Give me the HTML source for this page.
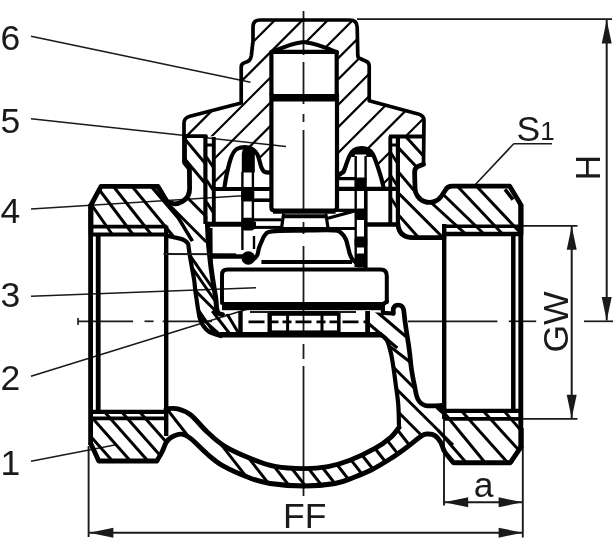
<!DOCTYPE html>
<html lang="en">
<head>
<meta charset="utf-8">
<title>Valve section drawing</title>
<style>
html,body{margin:0;padding:0;background:#fff;}
svg{display:block;filter:grayscale(1);}
svg text{font-family:"Liberation Sans",Arial,Helvetica,sans-serif;fill:#1a1a1a;}
</style>
</head>
<body>
<svg width="613" height="539" viewBox="0 0 613 539">
<defs>
<clipPath id="c1"><path d="M303.5,20 L260,20 Q253,20 253,27 L253,41 L251.3,56 Q250.5,61.5 245,62.5 Q241.2,63.5 241.2,67 L241.2,103 L190,116.2 Q184,117.8 184,123 L184,136.2 L213.4,136.2 L213.4,189 L224,189 L224,186.7 L230.5,157.4 Q236,146.5 245.3,146.5 Q255,147 260,159 L263.2,172 L271.4,172 L271.4,52.5 Q290,43.5 303.5,42 Q318,43.5 336.7,52.5 L336.7,174 L342.6,172.5 L349.1,156.1 Q352,148 360.6,148 Q369,148 373.6,156.1 L381.8,183.9 L382.5,188 L390.4,188 L390.4,136.5 L424,136.5 L424,120.5 Q424,115.6 419,114.2 L369.2,100.8 L369.2,66 Q369.2,62.8 366.5,61.5 L360,58.5 Q358,58 357.8,55.7 L357.2,27.5 Q357,20 350,20 Z"/></clipPath>
<clipPath id="c2"><path d="M91,234.6 L91,205 L101,186.4 L158,186.4 L167.2,201.7 A15,15 0 0 0 189.6,188 L189.4,169.5 Q189.2,168 188,167 L184.5,162.6 L184.5,136.2 L205.4,136.2 L207.5,224.0 C207.6,226.7 207.9,235.0 208.2,240.0 C208.5,245.0 209.0,249.1 209.5,254.0 C210.0,258.9 210.6,264.3 211.3,269.5 C212.0,274.7 212.8,280.2 213.6,285.0 C214.3,289.8 215.3,294.5 215.8,298.5 C216.3,302.5 216.2,306.6 216.7,309.0 C217.1,311.4 217.6,312.3 218.5,313.2 C219.4,314.1 221.8,314.3 222.4,314.5 L240,312.2 L240,335.2 L220.8,336 L220.8,336.0 C218.9,335.3 212.2,333.6 209.3,331.9 C206.4,330.2 205.1,328.4 203.5,326.0 C201.9,323.6 200.8,322.8 199.5,317.2 C198.2,311.6 196.5,298.8 195.6,292.7 C194.7,286.6 194.8,284.4 194.2,280.3 C193.6,276.2 192.8,272.4 192.0,268.0 C191.2,263.6 190.0,256.5 189.6,254.2 L188.2,244 Q186,240 180,238.6 L166,235.5 L166,234.6 Z"/></clipPath>
<clipPath id="c3"><path d="M521,234 L521,205 L509.7,186.2 L452,186.2 Q447.5,186.2 445.5,190 L441.5,196 A14.5,14.5 0 0 1 415,187.2 L414.6,172.5 Q414.8,168 417.4,166.8 L423.5,164.3 L424,136.5 L397.9,136.5 L397.9,224 Q399,237.6 413,237.6 L444,237.6 L444,234 Z"/></clipPath>
<clipPath id="c4"><path d="M91,411.2 L91,444 L98.8,461 L156.8,461 L156.8,461.0 C157.7,459.5 160.4,455.1 162.0,452.0 C163.6,448.9 164.8,444.7 166.3,442.3 C167.8,439.9 168.8,438.8 171.2,437.4 C173.6,436.0 177.7,433.9 181.0,434.1 C184.3,434.3 186.4,435.3 190.8,438.6 C195.2,441.9 201.8,449.4 207.2,454.0 C212.6,458.6 216.4,462.2 223.5,466.2 C230.6,470.2 242.2,475.1 250.0,478.0 C257.8,480.9 261.0,482.2 270.0,483.5 C279.0,484.8 293.2,486.0 304.0,486.0 C314.8,486.0 326.8,484.9 335.0,483.5 C343.2,482.1 347.0,479.9 353.0,477.7 C359.0,475.4 364.9,473.2 371.2,470.0 C377.5,466.8 384.8,462.3 390.8,458.5 C396.8,454.7 402.0,450.8 407.2,447.0 C412.4,443.2 418.4,437.8 421.9,435.6 C425.4,433.4 426.2,434.0 428.4,434.0 C430.6,434.0 432.9,434.2 435.0,435.6 C437.1,437.0 439.1,439.5 440.7,442.2 C442.3,444.9 442.6,448.6 444.8,452.0 C447.0,455.4 452.1,460.9 453.6,462.7 L510.4,462.7 L521,446.8 L521,409.6 L444,409.6 L444,405.4 L443.1,405.4 C440.1,405.4 429.4,406.5 425.2,405.4 C421.0,404.3 419.6,402.4 417.8,399.0 C416.0,395.6 415.5,390.2 414.4,385.0 C413.3,379.8 412.1,373.8 411.3,368.0 C410.5,362.2 410.3,357.3 409.3,350.0 C408.3,342.7 406.3,330.7 405.4,324.0 C404.4,317.3 404.2,312.7 403.6,309.7 C403.0,306.7 402.4,306.8 401.5,306.0 C400.6,305.2 399.5,305.0 398.5,305.0 C397.5,305.0 396.2,305.2 395.3,305.8 C394.4,306.4 393.6,308.1 393.3,308.5 L393.3,313.5 L382.9,312.7 L367,312 L367,334.7 L381,334.7 L381.0,334.7 C382.0,335.6 385.3,337.3 387.0,340.4 C388.7,343.5 389.9,348.9 391.0,353.5 C392.1,358.1 392.7,362.8 393.5,368.0 C394.3,373.2 395.0,378.8 395.8,385.0 C396.6,391.2 397.8,397.9 398.3,405.0 C398.8,412.1 398.9,423.8 399.0,427.5 L399.0,427.5 C397.6,429.1 394.9,433.8 390.8,437.3 C386.7,440.8 381.3,444.9 374.5,448.7 C367.7,452.5 357.8,457.2 350.0,460.2 C342.2,463.2 335.7,465.2 328.0,466.6 C320.3,468.0 312.8,468.6 304.0,468.6 C295.2,468.6 284.0,468.1 275.0,466.4 C266.0,464.7 258.5,461.6 250.0,458.2 C241.5,454.8 231.1,450.2 224.0,445.8 C216.9,441.4 212.7,437.1 207.2,432.0 C201.7,426.9 195.7,418.9 190.8,415.0 C185.9,411.1 181.9,409.8 177.8,408.8 C173.7,407.8 168.0,408.8 166.0,408.8 L166,411.2 Z"/></clipPath>
</defs>
<rect x="0" y="0" width="613" height="539" fill="#fff"/>
<text x="0.5" y="49.5" font-size="35.5" text-anchor="start" >6</text>
<line x1="31" y1="36.3" x2="250.5" y2="82.2" stroke="#1a1a1a" stroke-width="1.6" stroke-linecap="butt" />
<text x="0.5" y="133.2" font-size="35.5" text-anchor="start" >5</text>
<line x1="31" y1="118.7" x2="286" y2="146.5" stroke="#1a1a1a" stroke-width="1.6" stroke-linecap="butt" />
<text x="0.5" y="223" font-size="35.5" text-anchor="start" >4</text>
<line x1="31" y1="209" x2="246.7" y2="195.5" stroke="#1a1a1a" stroke-width="1.6" stroke-linecap="butt" />
<text x="0.5" y="307" font-size="35.5" text-anchor="start" >3</text>
<line x1="31" y1="296.2" x2="256" y2="287.8" stroke="#1a1a1a" stroke-width="1.6" stroke-linecap="butt" />
<text x="0.5" y="390" font-size="35.5" text-anchor="start" >2</text>
<line x1="31" y1="376.2" x2="250.2" y2="308.2" stroke="#1a1a1a" stroke-width="1.6" stroke-linecap="butt" />
<text x="0.5" y="475" font-size="35.5" text-anchor="start" >1</text>
<line x1="31" y1="461.3" x2="116" y2="444.7" stroke="#1a1a1a" stroke-width="1.6" stroke-linecap="butt" />
<text x="516.6" y="140.8" font-size="35.5" text-anchor="start" >S</text>
<text x="540.3" y="140.4" font-size="26" text-anchor="start" >1</text>
<line x1="513.5" y1="143.8" x2="552" y2="143.8" stroke="#1a1a1a" stroke-width="1.6" stroke-linecap="butt" />
<line x1="513.7" y1="143.8" x2="474.7" y2="185.3" stroke="#1a1a1a" stroke-width="1.6" stroke-linecap="butt" />
<line x1="357" y1="19.2" x2="612" y2="19.2" stroke="#1a1a1a" stroke-width="1.8" stroke-linecap="butt" />
<line x1="606.7" y1="20" x2="606.7" y2="320.5" stroke="#1a1a1a" stroke-width="2.0" stroke-linecap="butt" />
<polygon points="606.7,19.9 601.7,43.4 611.7,43.4" fill="#1a1a1a"/>
<polygon points="606.7,320.5 601.7,297.0 611.7,297.0" fill="#1a1a1a"/>
<text font-size="35.5" text-anchor="middle" transform="translate(600.4,167.8) rotate(-90)">H</text>
<line x1="518" y1="225.8" x2="577.5" y2="225.8" stroke="#1a1a1a" stroke-width="1.8" stroke-linecap="butt" />
<line x1="521" y1="418.9" x2="577.5" y2="418.9" stroke="#1a1a1a" stroke-width="1.8" stroke-linecap="butt" />
<line x1="571.7" y1="226" x2="571.7" y2="418" stroke="#1a1a1a" stroke-width="2.0" stroke-linecap="butt" />
<polygon points="571.7,226.2 566.7,249.7 576.7,249.7" fill="#1a1a1a"/>
<polygon points="571.7,418.2 566.7,394.7 576.7,394.7" fill="#1a1a1a"/>
<text font-size="35.5" text-anchor="middle" transform="translate(567.9,322) rotate(-90)">GW</text>
<line x1="444" y1="405" x2="444" y2="505.5" stroke="#1a1a1a" stroke-width="1.9" stroke-linecap="butt" />
<line x1="522.8" y1="428" x2="522.8" y2="537.5" stroke="#1a1a1a" stroke-width="1.9" stroke-linecap="butt" />
<line x1="444" y1="502.3" x2="522.8" y2="502.3" stroke="#1a1a1a" stroke-width="2.0" stroke-linecap="butt" />
<polygon points="444.2,502.3 468.2,497.3 468.2,507.3" fill="#1a1a1a"/>
<polygon points="522.6,502.3 498.6,497.3 498.6,507.3" fill="#1a1a1a"/>
<text x="483.5" y="496.6" font-size="35.5" text-anchor="middle" >a</text>
<line x1="88.6" y1="446" x2="88.6" y2="537" stroke="#1a1a1a" stroke-width="1.9" stroke-linecap="butt" />
<line x1="89.2" y1="532.7" x2="522.8" y2="532.7" stroke="#1a1a1a" stroke-width="2.0" stroke-linecap="butt" />
<polygon points="89.4,532.7 113.4,527.7 113.4,537.7" fill="#1a1a1a"/>
<polygon points="522.6,532.7 498.6,527.7 498.6,537.7" fill="#1a1a1a"/>
<text x="304.8" y="527.5" font-size="35.5" text-anchor="middle" >FF</text>
<line x1="303.5" y1="11" x2="303.5" y2="55" stroke="#1a1a1a" stroke-width="1.8" stroke-linecap="butt" />
<line x1="303.5" y1="62" x2="303.5" y2="104" stroke="#1a1a1a" stroke-width="1.8" stroke-linecap="butt" />
<line x1="303.5" y1="114" x2="303.5" y2="122" stroke="#1a1a1a" stroke-width="1.8" stroke-linecap="butt" />
<line x1="303.5" y1="130" x2="303.5" y2="212" stroke="#1a1a1a" stroke-width="1.8" stroke-linecap="butt" />
<line x1="303.5" y1="222" x2="303.5" y2="234" stroke="#1a1a1a" stroke-width="1.8" stroke-linecap="butt" />
<line x1="303.5" y1="246" x2="303.5" y2="337" stroke="#1a1a1a" stroke-width="1.8" stroke-linecap="butt" />
<line x1="303.5" y1="344" x2="303.5" y2="359" stroke="#1a1a1a" stroke-width="1.8" stroke-linecap="butt" />
<line x1="303.5" y1="366" x2="303.5" y2="496" stroke="#1a1a1a" stroke-width="1.8" stroke-linecap="butt" />
<line x1="78" y1="321.3" x2="133" y2="321.3" stroke="#1a1a1a" stroke-width="1.7" stroke-linecap="butt" />
<line x1="144.5" y1="321.3" x2="153.6" y2="321.3" stroke="#1a1a1a" stroke-width="1.7" stroke-linecap="butt" />
<line x1="162.7" y1="321.3" x2="212" y2="321.3" stroke="#1a1a1a" stroke-width="1.7" stroke-linecap="butt" />
<line x1="408" y1="321.3" x2="497.4" y2="321.3" stroke="#1a1a1a" stroke-width="1.7" stroke-linecap="butt" />
<line x1="508.8" y1="321.3" x2="536.2" y2="321.3" stroke="#1a1a1a" stroke-width="1.7" stroke-linecap="butt" />
<line x1="584" y1="321.3" x2="613" y2="321.3" stroke="#1a1a1a" stroke-width="1.7" stroke-linecap="butt" />
<line x1="78" y1="318" x2="78" y2="325" stroke="#1a1a1a" stroke-width="1.6" stroke-linecap="butt" />
<path d="M303.5,20 L260,20 Q253,20 253,27 L253,41 L251.3,56 Q250.5,61.5 245,62.5 Q241.2,63.5 241.2,67 L241.2,103 L190,116.2 Q184,117.8 184,123 L184,136.2 L206,136.2" fill="none" stroke="#000" stroke-width="3.7" stroke-linejoin="round" stroke-linecap="round" />
<path d="M303.5,20 L350,20 Q357,20 357.2,27.5 L357.8,55.7 Q358,58 360,58.5 L366.5,61.5 Q369.2,62.8 369.2,66 L369.2,100.8 L419,114.2 Q424,115.6 424,120.5 L423.5,164.3" fill="none" stroke="#000" stroke-width="3.7" stroke-linejoin="round" stroke-linecap="round" />
<path d="M271.4,94 L271.4,51.8 L336.7,51.8 L336.7,94" fill="none" stroke="#000" stroke-width="4.2" stroke-linejoin="round" stroke-linecap="round" />
<path d="M271.4,52.5 Q290,43.5 303.5,42 Q318,43.5 336.7,52.5" fill="none" stroke="#000" stroke-width="4.2" stroke-linejoin="round" stroke-linecap="round" />
<rect x="270" y="94" width="68" height="7.5" fill="#000"/>
<path d="M271.4,94 L271.4,207.5 Q271.4,210.6 275,210.6 L333.5,210.6 Q337,210.6 337,207.5 L337,94" fill="none" stroke="#000" stroke-width="4.2" stroke-linejoin="round" stroke-linecap="round" />
<line x1="273" y1="211.6" x2="335.5" y2="211.6" stroke="#000" stroke-width="4.4" stroke-linecap="butt" />
<g clip-path="url(#c1)" stroke="#000" stroke-width="2.25" fill="none">
<line x1="270.0" y1="0" x2="-269.0" y2="539"/>
<line x1="295.0" y1="0" x2="-244.0" y2="539"/>
<line x1="322.6" y1="0" x2="-216.4" y2="539"/>
<line x1="348.0" y1="0" x2="-191.0" y2="539"/>
<line x1="373.0" y1="0" x2="-166.0" y2="539"/>
<line x1="396.4" y1="0" x2="-142.6" y2="539"/>
<line x1="417.5" y1="0" x2="-121.5" y2="539"/>
<line x1="443.0" y1="0" x2="-96.0" y2="539"/>
<line x1="465.3" y1="0" x2="-73.7" y2="539"/>
<line x1="491.0" y1="0" x2="-48.0" y2="539"/>
<line x1="516.4" y1="0" x2="-22.6" y2="539"/>
<line x1="542.0" y1="0" x2="3.0" y2="539"/>
<line x1="567.0" y1="0" x2="28.0" y2="539"/>
</g>
<path d="M91,234.6 L91,205 L101,186.4 L158,186.4 L167.2,201.7 A15,15 0 0 0 189.6,188 L189.4,169.5 Q189.2,168 188,167 L184.5,162.6 L184.5,136.2" fill="none" stroke="#000" stroke-width="4.8" stroke-linejoin="round" stroke-linecap="round" />
<path d="M521,234 L521,205 L509.7,186.2 L452,186.2 Q447.5,186.2 445.5,190 L441.5,196 A14.5,14.5 0 0 1 415,187.2 L414.6,172.5 Q414.8,168 417.4,166.8 L423.5,164.3" fill="none" stroke="#000" stroke-width="4.8" stroke-linejoin="round" stroke-linecap="round" />
<line x1="90.6" y1="204" x2="90.6" y2="445" stroke="#000" stroke-width="4.8" stroke-linecap="butt" />
<line x1="98.2" y1="234.6" x2="98.2" y2="411.2" stroke="#000" stroke-width="4.8" stroke-linecap="butt" />
<line x1="90" y1="226.6" x2="167.3" y2="226.6" stroke="#000" stroke-width="3.8" stroke-linecap="butt" />
<line x1="90" y1="234.4" x2="167.3" y2="234.4" stroke="#000" stroke-width="4.0" stroke-linecap="butt" />
<line x1="166.2" y1="226" x2="166.2" y2="436" stroke="#000" stroke-width="4.4" stroke-linecap="butt" />
<line x1="90" y1="411.8" x2="167" y2="411.8" stroke="#000" stroke-width="4.2" stroke-linecap="butt" />
<line x1="90" y1="418.4" x2="166" y2="418.4" stroke="#000" stroke-width="3.9" stroke-linecap="butt" />
<line x1="520.8" y1="204" x2="520.8" y2="448" stroke="#000" stroke-width="4.9" stroke-linecap="butt" />
<line x1="513.3" y1="233.9" x2="513.3" y2="410.5" stroke="#000" stroke-width="4.5" stroke-linecap="butt" />
<line x1="443" y1="226.3" x2="521" y2="226.3" stroke="#000" stroke-width="3.6" stroke-linecap="butt" />
<line x1="444" y1="234" x2="521" y2="234" stroke="#000" stroke-width="4.6" stroke-linecap="butt" />
<line x1="444.2" y1="224" x2="444.2" y2="419" stroke="#000" stroke-width="4.4" stroke-linecap="butt" />
<line x1="444" y1="410.8" x2="521" y2="410.8" stroke="#000" stroke-width="4.2" stroke-linecap="butt" />
<line x1="444" y1="418.9" x2="521" y2="418.9" stroke="#000" stroke-width="3.6" stroke-linecap="butt" />
<line x1="505" y1="189.3" x2="513" y2="199.6" stroke="#000" stroke-width="3.6" stroke-linecap="butt" />
<path d="M166,235.5 L180,238.6 Q186,240 188.2,244 L189.6,254.2 C190.0,256.5 191.2,263.6 192.0,268.0 C192.8,272.4 193.6,276.2 194.2,280.3 C194.8,284.4 194.7,286.6 195.6,292.7 C196.5,298.8 198.2,311.6 199.5,317.2 C200.8,322.8 201.9,323.6 203.5,326.0 C205.1,328.4 206.4,330.2 209.3,331.9 C212.2,333.6 218.9,335.3 220.8,336.0" fill="none" stroke="#000" stroke-width="4.2" stroke-linejoin="round" stroke-linecap="round" />
<path d="M207.5,224.0 C207.6,226.7 207.9,235.0 208.2,240.0 C208.5,245.0 209.0,249.1 209.5,254.0 C210.0,258.9 210.6,264.3 211.3,269.5 C212.0,274.7 212.8,280.2 213.6,285.0 C214.3,289.8 215.3,294.5 215.8,298.5 C216.3,302.5 216.2,306.6 216.7,309.0 C217.1,311.4 217.6,312.3 218.5,313.2 C219.4,314.1 221.8,314.3 222.4,314.5" fill="none" stroke="#000" stroke-width="5.0" stroke-linejoin="round" stroke-linecap="round" />
<line x1="220" y1="334.8" x2="382" y2="334.8" stroke="#000" stroke-width="5.4" stroke-linecap="butt" />
<line x1="205.4" y1="136.2" x2="205.4" y2="224" stroke="#000" stroke-width="4.2" stroke-linecap="butt" />
<line x1="213.8" y1="137" x2="213.8" y2="224" stroke="#000" stroke-width="3.9" stroke-linecap="butt" />
<line x1="390.3" y1="136.5" x2="390.3" y2="224" stroke="#000" stroke-width="3.9" stroke-linecap="butt" />
<line x1="397.9" y1="136.5" x2="397.9" y2="226" stroke="#000" stroke-width="4.2" stroke-linecap="butt" />
<line x1="389" y1="136.5" x2="424" y2="136.5" stroke="#000" stroke-width="3.9" stroke-linecap="butt" />
<line x1="205" y1="145" x2="214" y2="145" stroke="#000" stroke-width="3.0" stroke-linecap="butt" />
<line x1="390" y1="145" x2="398" y2="145" stroke="#000" stroke-width="3.0" stroke-linecap="butt" />
<path d="M397.9,224 Q399,237.6 413,237.6 L444,237.6" fill="none" stroke="#000" stroke-width="4.8" stroke-linejoin="round" stroke-linecap="round" />
<g clip-path="url(#c2)" stroke="#000" stroke-width="3.0" fill="none">
<line x1="88.1" y1="200" x2="113.4" y2="236"/>
<line x1="95.0" y1="184" x2="134.1" y2="236"/>
<line x1="111.5" y1="184" x2="152.5" y2="236"/>
<line x1="130.1" y1="184" x2="173.1" y2="236"/>
<line x1="149.0" y1="184" x2="178.5" y2="218.5"/>
<line x1="150.0" y1="184" x2="179.5" y2="218.5"/>
<line x1="178.1" y1="218" x2="191.9" y2="241"/>
<line x1="178.8" y1="218" x2="192.6" y2="241"/>
<line x1="164.3" y1="200" x2="206.3" y2="242"/>
<line x1="184.7" y1="195" x2="215.7" y2="226"/>
<line x1="177.3" y1="130" x2="210.7" y2="170"/>
<line x1="177.3" y1="150" x2="219.0" y2="200"/>
<line x1="182.7" y1="245" x2="213.9" y2="290"/>
<line x1="188.2" y1="262" x2="217.9" y2="305"/>
<line x1="190.6" y1="286" x2="218.6" y2="314"/>
<line x1="195.6" y1="306" x2="214.9" y2="334"/>
<line x1="201.4" y1="318" x2="223.7" y2="338"/>
<line x1="212.2" y1="311" x2="233.0" y2="338"/>
<line x1="224.7" y1="310" x2="241.5" y2="338"/>
</g>
<g clip-path="url(#c3)" stroke="#000" stroke-width="3.0" fill="none">
<line x1="387.4" y1="136" x2="419.4" y2="170"/>
<line x1="388.4" y1="160" x2="422.0" y2="200"/>
<line x1="395.4" y1="190" x2="445.4" y2="240"/>
<line x1="389.6" y1="205" x2="420.6" y2="240"/>
<line x1="423.9" y1="196" x2="472.2" y2="240"/>
<line x1="434.5" y1="186" x2="486.1" y2="236"/>
<line x1="455.3" y1="184" x2="504.4" y2="236"/>
<line x1="474.4" y1="184" x2="523.5" y2="236"/>
<line x1="390.7" y1="120" x2="427.1" y2="160"/>
</g>
<path d="M91,444 L98.8,461 L156.8,461 L156.8,461.0 C157.7,459.5 160.4,455.1 162.0,452.0 C163.6,448.9 164.8,444.7 166.3,442.3 C167.8,439.9 168.8,438.8 171.2,437.4 C173.6,436.0 177.7,433.9 181.0,434.1 C184.3,434.3 186.4,435.3 190.8,438.6 C195.2,441.9 201.8,449.4 207.2,454.0 C212.6,458.6 216.4,462.2 223.5,466.2 C230.6,470.2 242.2,475.1 250.0,478.0 C257.8,480.9 261.0,482.2 270.0,483.5 C279.0,484.8 293.2,486.0 304.0,486.0 C314.8,486.0 326.8,484.9 335.0,483.5 C343.2,482.1 347.0,479.9 353.0,477.7 C359.0,475.4 364.9,473.2 371.2,470.0 C377.5,466.8 384.8,462.3 390.8,458.5 C396.8,454.7 402.0,450.8 407.2,447.0 C412.4,443.2 418.4,437.8 421.9,435.6 C425.4,433.4 426.2,434.0 428.4,434.0 C430.6,434.0 432.9,434.2 435.0,435.6 C437.1,437.0 439.1,439.5 440.7,442.2 C442.3,444.9 442.6,448.6 444.8,452.0 C447.0,455.4 452.1,460.9 453.6,462.7 L510.4,462.7 L521,446.8" fill="none" stroke="#000" stroke-width="4.9" stroke-linejoin="round" stroke-linecap="round" />
<path d="M166.0,408.8 C168.0,408.8 173.7,407.8 177.8,408.8 C181.9,409.8 185.9,411.1 190.8,415.0 C195.7,418.9 201.7,426.9 207.2,432.0 C212.7,437.1 216.9,441.4 224.0,445.8 C231.1,450.2 241.5,454.8 250.0,458.2 C258.5,461.6 266.0,464.7 275.0,466.4 C284.0,468.1 295.2,468.6 304.0,468.6 C312.8,468.6 320.3,468.0 328.0,466.6 C335.7,465.2 342.2,463.2 350.0,460.2 C357.8,457.2 367.7,452.5 374.5,448.7 C381.3,444.9 386.7,440.8 390.8,437.3 C394.9,433.8 397.6,429.1 399.0,427.5" fill="none" stroke="#000" stroke-width="4.9" stroke-linejoin="round" stroke-linecap="round" />
<path d="M367,334.7 L381,334.7 L381.0,334.7 C382.0,335.6 385.3,337.3 387.0,340.4 C388.7,343.5 389.9,348.9 391.0,353.5 C392.1,358.1 392.7,362.8 393.5,368.0 C394.3,373.2 395.0,378.8 395.8,385.0 C396.6,391.2 397.8,397.9 398.3,405.0 C398.8,412.1 398.9,423.8 399.0,427.5" fill="none" stroke="#000" stroke-width="4.2" stroke-linejoin="round" stroke-linecap="round" />
<path d="M393.3,313.5 L393.3,308.5 L393.3,308.5 C393.6,308.1 394.4,306.4 395.3,305.8 C396.2,305.2 397.5,305.0 398.5,305.0 C399.5,305.0 400.6,305.2 401.5,306.0 C402.4,306.8 403.0,306.7 403.6,309.7 C404.2,312.7 404.4,317.3 405.4,324.0 C406.3,330.7 408.3,342.7 409.3,350.0 C410.3,357.3 410.5,362.2 411.3,368.0 C412.1,373.8 413.3,379.8 414.4,385.0 C415.5,390.2 416.0,395.6 417.8,399.0 C419.6,402.4 421.0,404.3 425.2,405.4 C429.4,406.5 440.1,405.4 443.1,405.4" fill="none" stroke="#000" stroke-width="4.7" stroke-linejoin="round" stroke-linecap="round" />
<path d="M387,301.5 L384,303.5 Q382.5,305 382.9,308 L382.9,312.9 L393.3,313.5" fill="none" stroke="#000" stroke-width="4.2" stroke-linejoin="round" stroke-linecap="round" />
<g clip-path="url(#c4)" stroke="#000" stroke-width="3.0" fill="none">
<line x1="62.9" y1="405" x2="116.0" y2="465"/>
<line x1="80.9" y1="405" x2="134.0" y2="465"/>
<line x1="98.4" y1="405" x2="151.5" y2="465"/>
<line x1="115.5" y1="405" x2="168.6" y2="465"/>
<line x1="133.5" y1="405" x2="186.6" y2="465"/>
<line x1="437.8" y1="430" x2="469.1" y2="466"/>
<line x1="437.8" y1="405" x2="487.8" y2="466"/>
<line x1="456.2" y1="405" x2="510.7" y2="466"/>
<line x1="477.8" y1="405" x2="533.2" y2="466"/>
<line x1="501.5" y1="408" x2="524.1" y2="434"/>
<line x1="158.7" y1="398.5" x2="191.5" y2="440.5"/>
<line x1="215.0" y1="436.6" x2="247.8" y2="478.6"/>
<line x1="238.8" y1="445.4" x2="271.6" y2="487.4"/>
<line x1="262.6" y1="451.7" x2="295.4" y2="493.7"/>
<line x1="279.7" y1="453" x2="312.5" y2="495"/>
<line x1="296.4" y1="453" x2="329.2" y2="495"/>
<line x1="310.3" y1="452" x2="343.1" y2="494"/>
<line x1="325.2" y1="449.5" x2="358.0" y2="491.5"/>
<line x1="340.0" y1="445.8" x2="372.8" y2="487.8"/>
<line x1="352.2" y1="442.5" x2="385.0" y2="484.5"/>
<line x1="365.3" y1="436" x2="398.1" y2="478"/>
<line x1="377.5" y1="427.8" x2="410.3" y2="469.8"/>
<line x1="388.2" y1="418" x2="421.0" y2="460"/>
<line x1="382.3" y1="375" x2="453.0" y2="445"/>
<line x1="386.2" y1="400" x2="426.2" y2="440"/>
<line x1="386.2" y1="360" x2="421.2" y2="395"/>
<line x1="372.3" y1="308" x2="412.3" y2="342"/>
<line x1="362.0" y1="318" x2="397.3" y2="348"/>
<line x1="386.7" y1="344" x2="415.3" y2="366"/>
</g>
<line x1="436.6" y1="407.9" x2="447" y2="417" stroke="#000" stroke-width="2.4" stroke-linecap="butt" />
<path d="M224.5,187.0 C224.9,184.7 225.9,178.0 227.0,173.0 C228.1,168.0 229.8,160.9 231.3,157.0 C232.8,153.1 234.1,151.1 236.0,149.5 C237.9,147.9 240.5,147.5 243.0,147.3 C245.5,147.1 248.6,147.3 251.0,148.5 C253.4,149.7 255.7,151.2 257.4,154.4 C259.1,157.6 260.2,164.5 261.4,167.4 C262.6,170.3 262.9,170.9 264.5,171.8 C266.1,172.7 269.9,172.5 271.0,172.6" fill="none" stroke="#000" stroke-width="4.2" stroke-linejoin="round" stroke-linecap="round" />
<path d="M337.0,175.0 C338.0,174.5 341.5,173.7 343.0,172.0 C344.5,170.3 344.9,167.7 346.0,165.0 C347.1,162.3 348.3,158.2 349.6,155.7 C350.9,153.2 352.1,151.2 354.0,150.0 C355.9,148.8 359.0,148.3 361.3,148.2 C363.6,148.1 366.1,148.5 368.0,149.5 C369.9,150.5 371.1,150.6 373.0,154.4 C374.9,158.2 377.9,167.2 379.6,172.6 C381.4,178.0 382.9,184.6 383.5,187.0" fill="none" stroke="#000" stroke-width="4.2" stroke-linejoin="round" stroke-linecap="round" />
<path d="M241.8,172.6 L241.8,154 Q241.8,147.5 248,147.5 Q254.8,147.5 254.8,154 L254.8,172.6 Z" fill="#000"/>
<path d="M349.5,157 Q352,148 361.3,147.3 Q370.5,148 372.5,157 L366.5,157 L366,154.5 L355,154.5 L354.5,157 Z" fill="#000"/>
<path d="M337,179 L345.5,173 L348,165 L343.5,170.5 L337,173 Z" fill="#000"/>
<line x1="242.4" y1="172" x2="242.4" y2="250" stroke="#000" stroke-width="2.4" stroke-linecap="butt" />
<line x1="252.9" y1="172" x2="252.9" y2="221" stroke="#000" stroke-width="2.4" stroke-linecap="butt" />
<line x1="254" y1="236" x2="254" y2="249" stroke="#000" stroke-width="2.4" stroke-linecap="butt" />
<line x1="355.7" y1="156" x2="355.7" y2="267" stroke="#000" stroke-width="2.4" stroke-linecap="butt" />
<line x1="365.6" y1="156" x2="365.6" y2="180" stroke="#000" stroke-width="2.4" stroke-linecap="butt" />
<line x1="365.8" y1="189" x2="365.8" y2="268" stroke="#000" stroke-width="3.6" stroke-linecap="butt" />
<rect x="241" y="189.2" width="13.2" height="12.4" rx="3" fill="#000"/>
<rect x="241.5" y="217.8" width="12.8" height="12.8" rx="3" fill="#000"/>
<circle cx="248.3" cy="258" r="6.8" fill="#000"/>
<rect x="354.8" y="177.6" width="12" height="12.4" rx="3" fill="#000"/>
<rect x="355.2" y="208.6" width="11.4" height="11.4" rx="3" fill="#000"/>
<rect x="354.6" y="236.6" width="12.6" height="11" rx="3" fill="#000"/>
<rect x="355.2" y="253.5" width="11" height="14" rx="3" fill="#000"/>
<line x1="214" y1="189" x2="271.4" y2="189" stroke="#000" stroke-width="4.2" stroke-linecap="butt" />
<line x1="254" y1="200.2" x2="271" y2="200.2" stroke="#000" stroke-width="3.6" stroke-linecap="butt" />
<line x1="337" y1="178.6" x2="355" y2="178.6" stroke="#000" stroke-width="3.3" stroke-linecap="butt" />
<line x1="337" y1="188.8" x2="396" y2="188.8" stroke="#000" stroke-width="4.2" stroke-linecap="butt" />
<line x1="207" y1="224.3" x2="256" y2="224.3" stroke="#000" stroke-width="5.1" stroke-linecap="butt" />
<line x1="254" y1="219.8" x2="281" y2="219.8" stroke="#000" stroke-width="3.0" stroke-linecap="butt" />
<line x1="254" y1="227.4" x2="281" y2="227.4" stroke="#000" stroke-width="3.0" stroke-linecap="butt" />
<line x1="365.4" y1="224.5" x2="398" y2="224.5" stroke="#000" stroke-width="4.5" stroke-linecap="butt" />
<line x1="163.5" y1="253.9" x2="236" y2="254.2" stroke="#1a1a1a" stroke-width="2.0" stroke-linecap="butt" />
<line x1="210" y1="256.4" x2="244" y2="256.4" stroke="#000" stroke-width="4.5" stroke-linecap="butt" />
<line x1="211" y1="228" x2="211.2" y2="262" stroke="#000" stroke-width="3.0" stroke-linecap="butt" />
<path d="M283.4,214.8 L281.6,228 M326,214.8 L328,228" fill="none" stroke="#000" stroke-width="3.2" stroke-linejoin="round" stroke-linecap="round" />
<line x1="282" y1="216.3" x2="327" y2="216.3" stroke="#000" stroke-width="4.0" stroke-linecap="butt" />
<line x1="279" y1="228.6" x2="356" y2="228.6" stroke="#000" stroke-width="3.0" stroke-linecap="butt" />
<line x1="328" y1="218.2" x2="355.8" y2="210.6" stroke="#000" stroke-width="3.2" stroke-linecap="butt" />
<line x1="337" y1="210.3" x2="356" y2="210.3" stroke="#000" stroke-width="3.3" stroke-linecap="butt" />
<path d="M247.8,262.0 C248.7,261.6 251.4,260.7 253.0,259.5 C254.6,258.3 256.3,256.9 257.3,255.0 C258.3,253.1 258.3,250.2 259.0,248.0 C259.7,245.8 260.4,244.2 261.4,242.0 C262.4,239.8 263.2,236.8 265.0,235.0 C266.8,233.2 265.6,232.1 272.0,231.4 C278.4,230.7 293.2,230.8 303.5,230.6 C313.8,230.4 327.8,230.0 334.0,230.4 C340.2,230.8 339.0,231.3 341.0,232.8 C343.0,234.3 344.6,236.8 345.8,239.2 C347.0,241.6 347.3,244.5 348.0,247.0 C348.7,249.5 349.1,251.9 349.8,254.0 C350.6,256.1 351.4,258.0 352.5,259.5 C353.6,261.0 355.8,262.4 356.5,263.0" fill="none" stroke="#000" stroke-width="4.2" stroke-linejoin="round" stroke-linecap="round" />
<line x1="261.4" y1="262" x2="352" y2="262" stroke="#000" stroke-width="4.2" stroke-linecap="butt" />
<path d="M222,303 L222,275 Q222,269.6 227.5,269.6 L380.5,269.6 Q386.8,269.6 386.8,276 L386.8,302" fill="none" stroke="#000" stroke-width="4.0" stroke-linejoin="round" stroke-linecap="round" />
<rect x="222" y="302" width="162.4" height="8.2" fill="#000"/>
<line x1="240.5" y1="311" x2="240.5" y2="335" stroke="#000" stroke-width="4.4" stroke-linecap="butt" />
<line x1="269.7" y1="311" x2="269.7" y2="335" stroke="#000" stroke-width="4.4" stroke-linecap="butt" />
<line x1="287.6" y1="311" x2="287.6" y2="335" stroke="#000" stroke-width="3.0" stroke-linecap="butt" />
<line x1="322" y1="311" x2="322" y2="335" stroke="#000" stroke-width="3.0" stroke-linecap="butt" />
<line x1="338.8" y1="311" x2="338.8" y2="335" stroke="#000" stroke-width="3.6" stroke-linecap="butt" />
<line x1="367.6" y1="311" x2="367.6" y2="335" stroke="#000" stroke-width="4.8" stroke-linecap="butt" />
<line x1="248.5" y1="321.8" x2="366" y2="321.8" stroke="#000" stroke-width="2.8" stroke-linecap="butt" stroke-dasharray="16 5 9 4 9 4"/>
<line x1="250" y1="312" x2="356" y2="312" stroke="#1a1a1a" stroke-width="1.8" stroke-linecap="butt" />
<rect x="270" y="311.2" width="68" height="4.6" fill="#000"/>
<rect x="270" y="330.4" width="68" height="3" fill="#000"/>
<line x1="206.5" y1="157" x2="213" y2="167" stroke="#000" stroke-width="3.0" stroke-linecap="butt" />
<line x1="391" y1="153" x2="397.3" y2="163" stroke="#000" stroke-width="2.8" stroke-linecap="butt" />
<line x1="206.5" y1="180" x2="213" y2="190" stroke="#000" stroke-width="3.0" stroke-linecap="butt" />
<line x1="391" y1="176" x2="397.3" y2="186" stroke="#000" stroke-width="2.8" stroke-linecap="butt" />
<line x1="206.5" y1="202" x2="213" y2="212" stroke="#000" stroke-width="3.0" stroke-linecap="butt" />
<line x1="391" y1="198" x2="397.3" y2="208" stroke="#000" stroke-width="2.8" stroke-linecap="butt" />
<!--END-->
</svg>
</body>
</html>
